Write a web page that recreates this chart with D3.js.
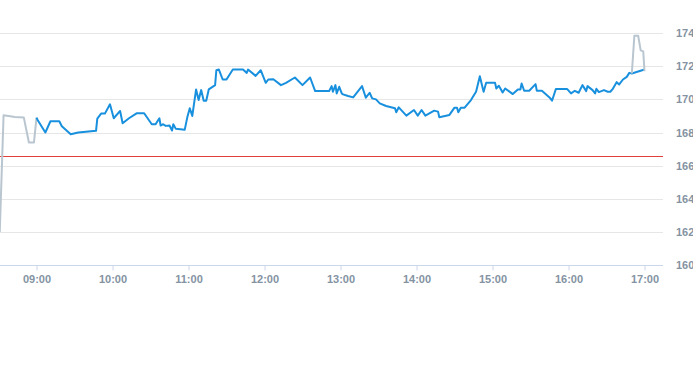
<!DOCTYPE html>
<html>
<head>
<meta charset="utf-8">
<script src="https://cdn.jsdelivr.net/npm/d3@7"></script>
<style>
  body { margin: 0; background: #fff; }
  #chart { width: 693px; height: 365px; }
  .axis-label { font-family: "Liberation Sans", Arial, sans-serif; font-size: 11px; font-weight: bold; fill: #8493a2; }
</style>
</head>
<body>
<div id="chart"></div>
<script>
// pre-market (grey)
const preTimes  = ["8:31","8:34","8:43","8:50","8:54","8:58","9:00"];
const preValues = [162.0,169.04,168.94,168.9,167.4,167.4,168.9];

// regular session (blue)
const mainTimes = ["9:00","9:01","9:07","9:11","9:18","9:20","9:27","9:33","9:47","9:48","9:51","9:54","9:58",
  "10:01","10:06","10:08","10:13","10:19","10:25","10:31","10:34","10:37","10:38","10:40","10:42","10:45","10:47","10:48","10:50","10:57","10:59",
  "11:01","11:03","11:06","11:08","11:10","11:12","11:14","11:16","11:21","11:22","11:24","11:27","11:30","11:35","11:43","11:46","11:47","11:53","11:57",
  "12:01","12:03","12:07","12:13","12:17","12:24","12:30","12:36","12:40","12:51","12:53","12:54","12:56","12:57","12:59",
  "13:01","13:02","13:06","13:10","13:17","13:20","13:23","13:25","13:28","13:31","13:36","13:43","13:44","13:46","13:52","13:58",
  "14:01","14:04","14:07","14:14","14:17","14:18","14:26","14:30","14:32","14:33","14:35","14:38","14:43","14:47","14:48","14:50","14:52","14:53","14:55",
  "15:02","15:03","15:05","15:08","15:10","15:16","15:20","15:22","15:23","15:25","15:29","15:34","15:35","15:39","15:45","15:47","15:50","15:59",
  "16:02","16:05","16:08","16:11","16:14","16:15","16:19","16:21","16:22","16:24","16:28","16:31","16:33","16:35","16:38","16:40","16:43","16:46","16:48","16:50","17:00"];
const mainValues = [168.9,168.74,168.0,168.68,168.68,168.38,167.9,168.0,168.1,168.84,169.14,169.14,169.7,
  168.86,169.3,168.56,168.86,169.16,169.16,168.5,168.5,168.86,168.42,168.5,168.4,168.42,168.12,168.5,168.22,168.16,168.9,
  169.46,169.0,170.6,169.96,170.56,169.92,169.92,170.6,170.86,171.76,171.8,171.2,171.2,171.8,171.8,171.6,171.8,171.42,171.76,
  171.0,171.2,171.22,170.86,171.0,171.32,170.86,171.32,170.5,170.5,170.8,170.46,170.86,170.36,170.76,
  170.36,170.3,170.2,170.12,170.8,170.1,170.4,170.06,170.0,169.76,169.6,169.46,169.22,169.52,169.02,169.36,
  169.02,169.36,169.02,169.32,169.26,168.92,169.06,169.5,169.5,169.22,169.5,169.5,169.96,170.46,170.76,171.4,170.76,170.46,171.0,
  171.0,170.66,170.82,170.42,170.66,170.32,170.6,170.6,170.96,170.52,170.52,170.92,170.52,170.52,170.12,169.92,170.62,170.62,
  170.36,170.52,170.4,170.86,170.5,170.8,170.56,170.36,170.64,170.44,170.56,170.46,170.46,170.64,171.04,170.9,171.2,171.36,171.6,171.56,171.8];

// after-hours (grey)
const postTimes  = ["16:50","16:52","16:55","16:57","16:59","17:00"];
const postValues = [171.56,173.84,173.84,172.96,172.9,171.7];

const refValue = 166.6;
const yTicks = [160,162,164,166,168,170,172,174];
const xTickLabels = ["09:00","10:00","11:00","12:00","13:00","14:00","15:00","16:00","17:00"];

const parseT = d3.timeParse("%H:%M");
const fmt = d3.timeFormat("%H:%M");

function toSeries(times, values) {
    return times.map((t, i) => ({t: parseT(t), v: values[i]}));
}

const width = 693, height = 365;
const svg = d3.select("#chart").append("svg")
    .attr("width", width)
    .attr("height", height);

const x = d3.scaleTime()
    .domain([parseT("8:30"), d3.timeMinute.offset(parseT("17:00"), 15)])
    .range([-1.5, 663.5]);
const y = d3.scaleLinear()
    .domain([160, 176])
    .range([265, 0]);

// gridlines
svg.append("g")
    .selectAll("line")
    .data(yTicks.filter(d => d !== 160))
    .join("line")
    .attr("x1", 0).attr("x2", 663)
    .attr("y1", d => Math.round(y(d)) + 0.5).attr("y2", d => Math.round(y(d)) + 0.5)
    .attr("stroke", "#e6e6e6");

// y labels on the right
svg.append("g")
    .selectAll("text")
    .data(yTicks)
    .join("text")
    .attr("class", "axis-label")
    .attr("x", 676)
    .attr("y", d => y(d) + 4)
    .text(d => d);

// x axis
const xAxis = d3.axisBottom(x)
    .tickValues(xTickLabels.map(parseT))
    .tickSize(5)
    .tickFormat(fmt);
const gx = svg.append("g")
    .attr("transform", "translate(0," + 265.5 + ")")
    .call(xAxis);
gx.select(".domain").attr("d", "M0,0H663").attr("stroke", "#ccd6eb");
gx.selectAll(".tick line").attr("stroke", "#ccd6eb");
gx.selectAll(".tick text")
    .attr("class", "axis-label")
    .attr("y", 10)
    .attr("dy", "0.71em");

const line = d3.line()
    .x(d => x(d.t))
    .y(d => y(d.v));

// reference line (crisp 1px)
const refY = Math.round(y(refValue)) + 0.5;
svg.append("line")
    .attr("x1", 0).attr("x2", 663)
    .attr("y1", refY).attr("y2", refY)
    .attr("stroke", "#e0403a")
    .attr("stroke-width", 1);

svg.append("path")
    .datum(toSeries(preTimes, preValues))
    .attr("d", line)
    .attr("fill", "none")
    .attr("stroke", "#b9c6d0")
    .attr("stroke-width", 2)
    .attr("stroke-linejoin", "round");

svg.append("path")
    .datum(toSeries(mainTimes, mainValues))
    .attr("d", line)
    .attr("fill", "none")
    .attr("stroke", "#1990de")
    .attr("stroke-width", 2)
    .attr("stroke-linejoin", "round");

svg.append("path")
    .datum(toSeries(postTimes, postValues))
    .attr("d", line)
    .attr("fill", "none")
    .attr("stroke", "#b9c6d0")
    .attr("stroke-width", 2)
    .attr("stroke-linejoin", "round");
</script>
</body>
</html>
